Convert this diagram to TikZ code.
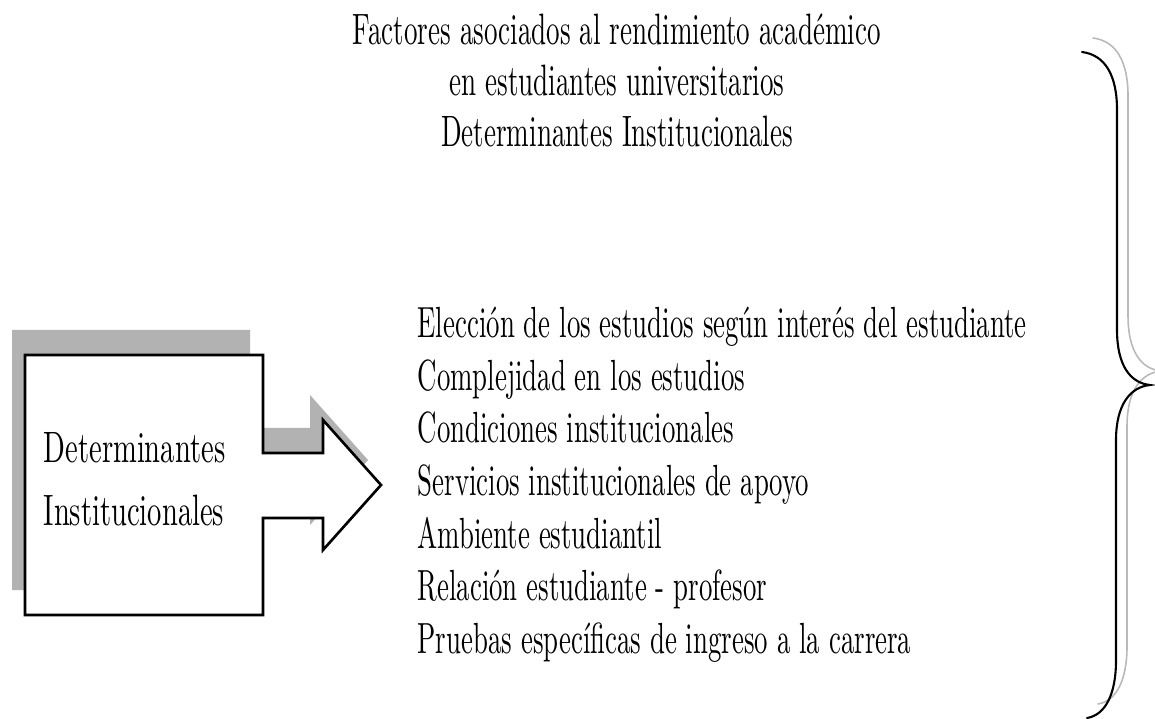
\documentclass[tikz,border=0pt]{standalone}
\usepackage{fontspec}
\setmainfont{lmroman10-regular.otf}[FakeStretch=0.615]
\newfontfamily\boxfont{lmroman10-regular.otf}[FakeStretch=0.65]
\begin{document}
\begin{tikzpicture}[x=0.01cm,y=-0.01cm,
    title/.style={anchor=base,inner sep=0pt,font=\fontsize{12.5}{15}\selectfont},
    item/.style={anchor=base west,inner sep=0pt,font=\fontsize{12.4}{15}\selectfont},
    boxtext/.style={anchor=base west,inner sep=0pt,font=\boxfont\fontsize{12.5}{15}\selectfont},
    outline/.style={draw=black,line width=0.75pt,fill=white,line join=miter},
    shadowfill/.style={fill=gray!60,draw=none},
    brace/.style={line width=0.6pt,line cap=round}]
    \useasboundingbox (0,0) rectangle (1155,719);
    % title
    \node[title] (t1) at (617,45) {Factores asociados al rendimiento académico};
    \node[title] (t2) at (617,96) {en estudiantes universitarios};
    \node[title] (t3) at (617,147) {Determinantes Institucionales};
    % box with arrow and its shadow
    \fill[shadowfill,shift={(-13,-25)}] (25,355) -- (263,355) -- (263,453) -- (323,453) -- (323,420)
      -- (381,485) -- (323,550) -- (323,518) -- (263,518) -- (263,615) -- (25,615) -- cycle;
    \draw[outline] (25,355) -- (263,355) -- (263,453) -- (323,453) -- (323,420)
      -- (381,485) -- (323,550) -- (323,518) -- (263,518) -- (263,615) -- (25,615) -- cycle;
    \node[boxtext] (b1) at (43,463) {Determinantes};
    \node[boxtext] (b2) at (43,525) {Institucionales};
    % list of factors
    \foreach \txt [count=\i] in {Elección de los estudios según interés del estudiante,
        Complejidad en los estudios, Condiciones institucionales,
        Servicios institucionales de apoyo, Ambiente estudiantil,
        Relación estudiante - profesor, Pruebas específicas de ingreso a la carrera}
      \node[item] (item\i) at (417,{338+52.5*(\i-1)}) {\txt};
    % brace (with its faint copy)
    \draw[brace,gray!55,line width=0.45pt,shift={(11,-14)}] (1082,52) .. controls (1105,55) and (1117,75) .. (1117,110)
      -- (1117,330) .. controls (1117,365) and (1130,383) .. (1150,385)
      .. controls (1130,387) and (1116,405) .. (1116,440) -- (1116,660)
      .. controls (1116,695) and (1105,715) .. (1087,718);
    \draw[brace] (1082,52) .. controls (1105,55) and (1117,75) .. (1117,110)
      -- (1117,330) .. controls (1117,365) and (1130,383) .. (1150,385)
      .. controls (1130,387) and (1116,405) .. (1116,440) -- (1116,660)
      .. controls (1116,695) and (1105,715) .. (1087,718);
\end{tikzpicture}
\end{document}
